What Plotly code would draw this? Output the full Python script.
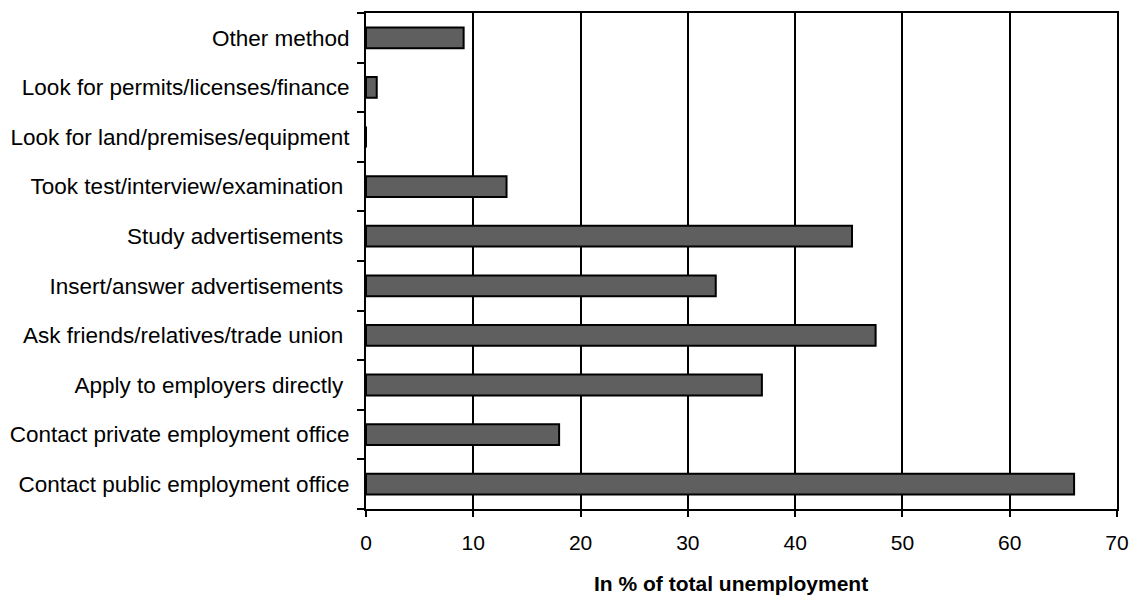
import plotly.graph_objects as go

categories = [
    "Contact public employment office",
    "Contact private employment office",
    "Apply to employers directly\u00a0",
    "Ask friends/relatives/trade union\u00a0",
    "Insert/answer advertisements\u00a0",
    "Study advertisements\u00a0",
    "Took test/interview/examination\u00a0",
    "Look for land/premises/equipment",
    "Look for permits/licenses/finance",
    "Other method",
]
values = [66.0, 18.0, 36.9, 47.5, 32.6, 45.3, 13.1, 0.0, 1.0, 9.1]
x_ticks = [0, 10, 20, 30, 40, 50, 60, 70]
x_title = "In % of total unemployment"

fig = go.Figure(
    go.Bar(
        x=values,
        y=categories,
        orientation="h",
        marker=dict(color="#5f5f5f", line=dict(color="black", width=2)),
        width=0.42,
    )
)

fig.update_layout(
    width=1132,
    height=596,
    margin=dict(l=366, r=15, t=13, b=87),
    plot_bgcolor="white",
    paper_bgcolor="white",
    showlegend=False,
    font=dict(family="Liberation Sans, Arial, sans-serif", color="black"),
)

fig.add_annotation(
    text="<b>" + x_title + "</b>",
    xref="paper",
    yref="paper",
    x=0.486,
    y=-0.151,
    xanchor="center",
    yanchor="middle",
    showarrow=False,
    font=dict(family="Liberation Sans, Arial, sans-serif", size=21, color="black"),
)

fig.update_xaxes(
    automargin=False,
    range=[0, 70],
    tickvals=x_ticks,
    ticktext=[str(v) for v in x_ticks],
    showgrid=True,
    gridcolor="black",
    gridwidth=1.5,
    zeroline=False,
    showline=True,
    linecolor="black",
    linewidth=2,
    mirror=True,
    ticks="outside",
    ticklen=6,
    tickwidth=1.5,
    tickcolor="black",
    tickfont=dict(family="Liberation Sans, Arial, sans-serif", size=21),
    ticklabelstandoff=8,
)

fig.update_yaxes(
    automargin=False,
    categoryorder="array",
    categoryarray=categories,
    range=[-0.5, len(categories) - 0.5],
    showgrid=False,
    zeroline=False,
    showline=True,
    linecolor="black",
    linewidth=2,
    mirror=True,
    ticks="outside",
    tickson="boundaries",
    ticklen=7,
    tickwidth=1.5,
    tickcolor="black",
    tickfont=dict(family="Liberation Sans, Arial, sans-serif", size=22.5),
    ticklabelstandoff=10,
)

# remove the default page margin so the figure fills the 1132x596 window exactly
fig.write_html(
    "out.html",
    config={"displayModeBar": False},
    post_script="document.body.style.margin='0';document.body.style.overflow='hidden';",
)
